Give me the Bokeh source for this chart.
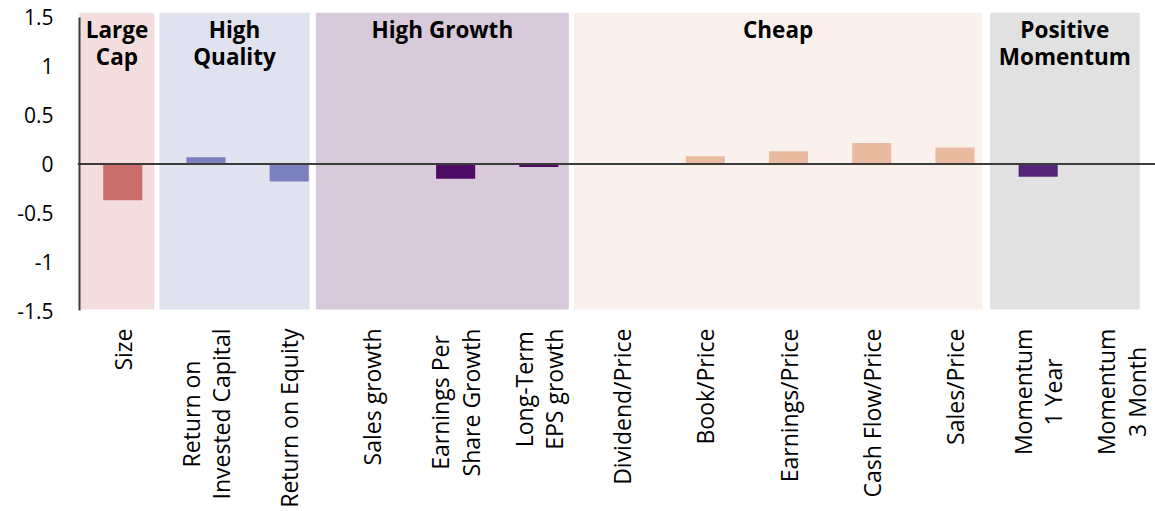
import math

from bokeh.core.properties import value
from bokeh.embed import file_html
from bokeh.models import ColumnDataSource, FixedTicker, Range1d, Span
from bokeh.plotting import figure
from bokeh.resources import INLINE

# Factor exposures, one bar per factor
factors = [
    "Size",
    "Return on\nInvested Capital",
    "Return on Equity",
    "Sales growth",
    "Earnings Per\nShare Growth",
    "Long-Term\nEPS growth",
    "Dividend/Price",
    "Book/Price",
    "Earnings/Price",
    "Cash Flow/Price",
    "Sales/Price",
    "Momentum\n1 Year",
    "Momentum\n3 Month",
]
exposure = [-0.37, 0.07, -0.18, 0.0, -0.15, -0.03, 0.0, 0.08, 0.13, 0.215, 0.17, -0.13, -0.01]
factor_group = [0, 1, 1, 2, 2, 2, 3, 3, 3, 3, 3, 4, 4]

# Style groups shaded behind the bars
group_titles = ["Large\nCap", "High\nQuality", "High Growth", "Cheap", "Positive\nMomentum"]
group_bar_colors = ["#C96F69", "#7A81BC", "#4D0B64", "#E9BBA1", "#552477"]
group_band_colors = ["#F4DEDD", "#E0E2EF", "#D8CADA", "#FBF1EC", "#E1E1E1"]

y_ticks = [-1.5, -1, -0.5, 0, 0.5, 1, 1.5]
y_tick_labels = ["-1.5", "-1", "-0.5", "0", "0.5", "1", "1.5"]

# Layout (in factor-index units) of the shaded group panels
band_left = [-0.52, 0.44, 2.32, 5.42, 10.42]
band_right = [0.38, 2.245, 5.36, 10.33, 12.22]
band_bottom = -1.49

FONT = "Open Sans"
LABEL_SIZE = 23          # px, category labels
LABEL_GAP = 18           # px between value-axis bottom and category labels

W, H = 1155, 511
BORDER_LEFT, BORDER_TOP = 77, 12
AXIS_BOTTOM_PX = 310     # canvas row of the value -1.5
X_START, X_END = -0.544, 12.41
VAL_MIN, Y_END = -1.5, 1.551
PX_PER_Y = (AXIS_BOTTOM_PX - BORDER_TOP) / (Y_END - VAL_MIN)
# the frame runs to the bottom of the canvas so the category labels fit inside it
Y_START = Y_END - (H - BORDER_TOP) / PX_PER_Y

# Open Sans advance widths (units per em = 2048), used to centre
# the lines of two-line category labels
OPEN_SANS_ADV = {
    " ": 532, "-": 659, "/": 752, "1": 1171, "3": 1171,
    "C": 1292, "E": 1139, "G": 1491, "I": 571, "L": 1073, "M": 1849,
    "P": 1251, "R": 1292, "S": 1124, "T": 1118, "Y": 1075,
    "a": 1139, "d": 1255, "e": 1149, "g": 1122, "h": 1257, "i": 518,
    "l": 518, "m": 1905, "n": 1257, "o": 1237, "p": 1255, "r": 836,
    "s": 977, "t": 723, "u": 1257, "v": 1026, "w": 1593,
}


def text_width_px(s, size):
    return sum(OPEN_SANS_ADV.get(c, 1150) for c in s) / 2048 * size


p = figure(
    width=W,
    height=H,
    x_range=Range1d(X_START, X_END),
    y_range=Range1d(Y_START, Y_END),
    output_backend="svg",
    toolbar_location=None,
    min_border_left=BORDER_LEFT,
    min_border_right=0,
    min_border_top=BORDER_TOP,
    min_border_bottom=0,
)
p.outline_line_color = None
p.xgrid.visible = False
p.ygrid.visible = False
p.xaxis.visible = False
p.background_fill_color = "white"
p.border_fill_color = "white"

# Group panels
band_src = ColumnDataSource(dict(
    left=band_left,
    right=band_right,
    color=group_band_colors,
    cx=[(l + r) / 2 for l, r in zip(band_left, band_right)],
    title=group_titles,
))
p.quad(left="left", right="right", bottom=band_bottom, top=Y_END,
       fill_color="color", line_color=None, source=band_src)
p.text(x="cx", y=Y_END - 1 / PX_PER_Y, text="title", source=band_src,
       text_font=value(FONT), text_font_style="bold", text_font_size="22.5px",
       text_color="#000000", text_align="center", text_baseline="top",
       text_line_height=0.88)

# Bars
bar_src = ColumnDataSource(dict(
    x=list(range(len(factors))),
    top=exposure,
    color=[group_bar_colors[g] for g in factor_group],
))
p.vbar(x="x", top="top", bottom=0, width=0.47, fill_color="color",
       line_color=None, source=bar_src)

# Zero line and vertical axis line
p.add_layout(Span(location=0, dimension="width", line_color="#3C3C3C", line_width=2))
p.segment(x0=-0.52, y0=VAL_MIN, x1=-0.52, y1=1.5, line_color="#3C3C3C", line_width=2)

# Category labels, rotated to read upwards; two-line labels have centred lines
label_top = VAL_MIN - LABEL_GAP / PX_PER_Y
single = dict(x=[], y=[], text=[])
double = dict(x=[], y=[], text=[])
for i, name in enumerate(factors):
    lines = name.split("\n")
    if len(lines) == 1:
        single["x"].append(i)
        single["y"].append(label_top)
        single["text"].append(name)
    else:
        longest = max(text_width_px(s, LABEL_SIZE) for s in lines)
        double["x"].append(i)
        double["y"].append(label_top - (longest / 2) / PX_PER_Y)
        double["text"].append(name)

label_style = dict(angle=math.pi / 2, text_baseline="middle",
                   text_font=value(FONT), text_font_size=f"{LABEL_SIZE}px",
                   text_color="#000000", text_line_height=0.95)
p.text(x="x", y="y", text="text", source=ColumnDataSource(single),
       text_align="right", **label_style)
p.text(x="x", y="y", text="text", source=ColumnDataSource(double),
       text_align="center", **label_style)

# Value axis
ya = p.yaxis[0]
ya.ticker = FixedTicker(ticks=y_ticks)
ya.major_label_overrides = {t: s for t, s in zip(y_ticks, y_tick_labels)}
ya.axis_line_color = None
ya.major_tick_line_color = None
ya.minor_tick_line_color = None
ya.major_tick_out = 0
ya.major_label_standoff = 24
ya.major_label_text_font = FONT
ya.major_label_text_font_size = "21px"
ya.major_label_text_color = "#000000"

open("out.html", "w").write(file_html(p, INLINE))
